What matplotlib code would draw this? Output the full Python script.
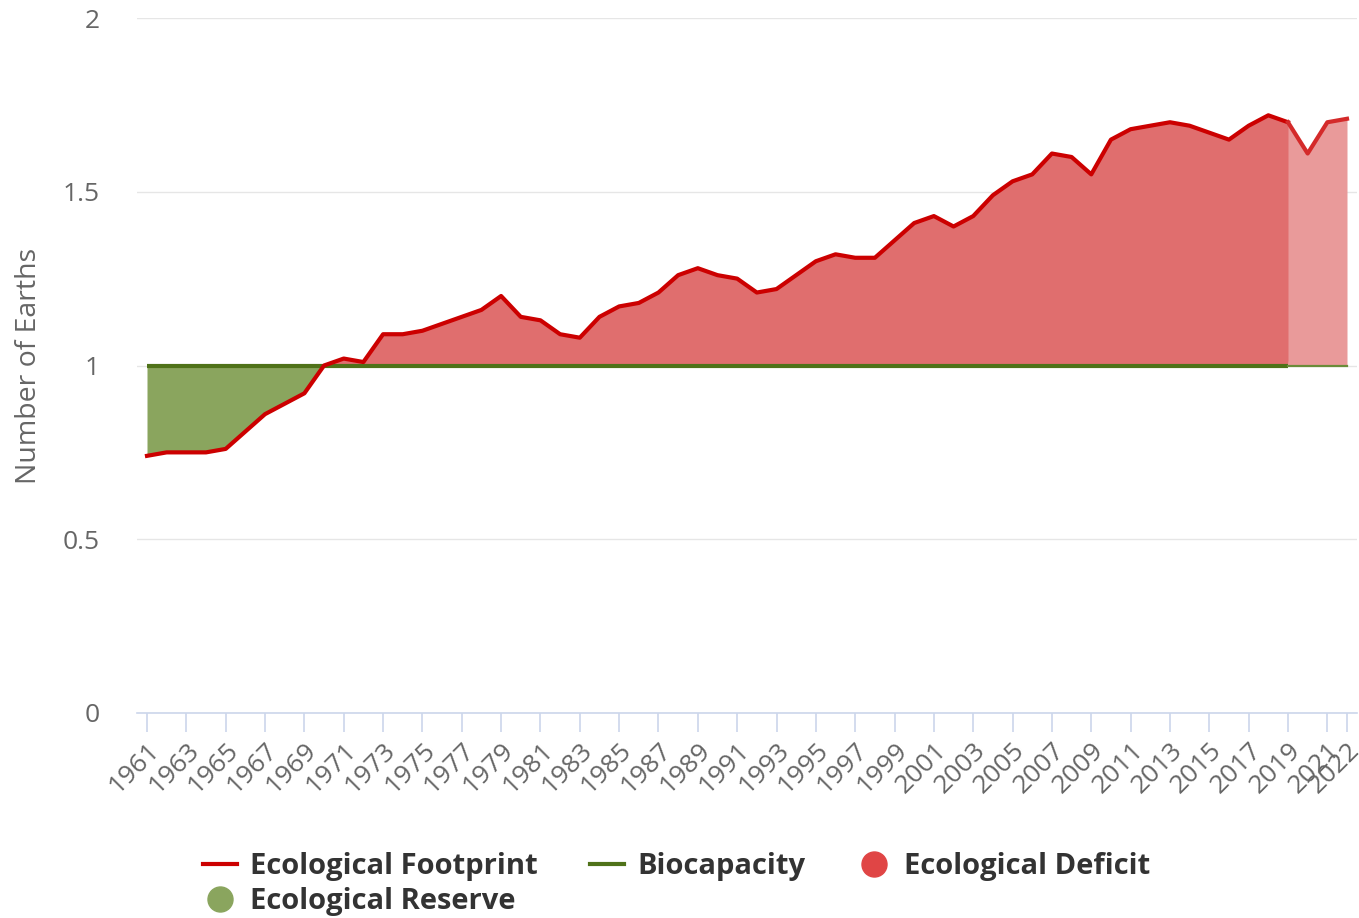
import numpy as np
import matplotlib

matplotlib.use("Agg")
import matplotlib.pyplot as plt
from matplotlib.lines import Line2D

# Data (number of Earths)
years = np.arange(1961, 2023)
footprint = np.array([
    0.74, 0.75, 0.75, 0.75, 0.76, 0.81, 0.86, 0.89, 0.92, 1.00,
    1.02, 1.01, 1.09, 1.09, 1.10, 1.12, 1.14, 1.16, 1.20, 1.14,
    1.13, 1.09, 1.08, 1.14, 1.17, 1.18, 1.21, 1.26, 1.28, 1.26,
    1.25, 1.21, 1.22, 1.26, 1.30, 1.32, 1.31, 1.31, 1.36, 1.41,
    1.43, 1.40, 1.43, 1.49, 1.53, 1.55, 1.61, 1.60, 1.55, 1.65,
    1.68, 1.69, 1.70, 1.69, 1.67, 1.65, 1.69, 1.72, 1.70, 1.61,
    1.70, 1.71,
])
biocapacity = np.ones(len(years))
estimate_from = 2019
tick_years = list(range(1961, 2022, 2)) + [2022]

# Colours
c_foot = "#cc0000"
c_bio = "#4f7219"
c_deficit = "#e06e6e"
c_deficit_est = "#e99a9a"
c_reserve = "#8aa55e"
c_grid = "#e6e6e6"
c_axis = "#ccd6eb"
c_label = "#666666"

plt.rcParams["font.family"] = ["Open Sans", "DejaVu Sans"]

fig = plt.figure(figsize=(13.59, 9.18), dpi=100)
ax = fig.add_axes([137 / 1359, 1 - 713 / 918, 1220 / 1359, 695 / 918])

hist = years <= estimate_from
est = years >= estimate_from

# Deficit / reserve areas
ax.fill_between(years, footprint, biocapacity, where=hist & (footprint >= biocapacity),
                interpolate=True, color=c_deficit, lw=0, zorder=1)
ax.fill_between(years, footprint, biocapacity, where=est & (footprint >= biocapacity),
                interpolate=True, color=c_deficit_est, lw=0, zorder=1)
ax.fill_between(years, footprint, biocapacity, where=footprint <= biocapacity,
                interpolate=True, color=c_reserve, lw=0, zorder=1)

# Lines
ax.plot(years[hist], biocapacity[hist], color=c_bio, lw=3, zorder=3, solid_capstyle="butt")
ax.plot(years[est], biocapacity[est], color="#6a8c3a", lw=1.6, zorder=3)
ax.plot(years[hist], footprint[hist], color=c_foot, lw=3, zorder=4, solid_joinstyle="round")
ax.plot(years[est], footprint[est], color="#d42a2a", lw=3, zorder=4, solid_joinstyle="round")

# Axes styling
ax.set_xlim(1961 - 10 / 19.67, 2022 + 10 / 19.67)
ax.set_ylim(0, 2)
ax.set_yticks([0, 0.5, 1, 1.5, 2])
ax.set_yticklabels(["0", "0.5", "1", "1.5", "2"])
ax.set_xticks(tick_years)
ax.set_xticklabels([str(y) for y in tick_years], rotation=45, ha="right", va="top",
                   rotation_mode="anchor")
ax.tick_params(axis="y", length=0, pad=27, labelsize=19, labelcolor=c_label)
ax.tick_params(axis="x", length=14, width=1.2, color=c_axis, pad=4, labelsize=19,
               labelcolor=c_label)
ax.grid(axis="y", color=c_grid, lw=1, zorder=0)
ax.set_axisbelow(True)
for side in ["top", "right", "left"]:
    ax.spines[side].set_visible(False)
ax.spines["bottom"].set_color(c_axis)
ax.spines["bottom"].set_linewidth(1.2)
ax.set_ylabel("Number of Earths", fontsize=20.5, color=c_label, labelpad=14)

# Legend
handles = [
    Line2D([], [], color=c_foot, lw=3),
    Line2D([], [], marker="o", ls="none", markersize=18, color=c_reserve),
    Line2D([], [], color=c_bio, lw=3),
    Line2D([], [], marker="o", ls="none", markersize=18, color="#e04545"),
]
labels = ["Ecological Footprint", "Ecological Reserve", "Biocapacity", "Ecological Deficit"]
leg = fig.legend(handles, labels, ncol=3, loc="upper left",
                 bbox_to_anchor=(203 / 1359, 1 - 852 / 918), frameon=False,
                 handlelength=1.17, handletextpad=0.45, columnspacing=1.78,
                 labelspacing=0.2, borderpad=0, borderaxespad=0,
                 prop={"size": 21, "weight": "bold"})
for t in leg.get_texts():
    t.set_color("#333333")

fig.savefig("out.png", dpi=100)
